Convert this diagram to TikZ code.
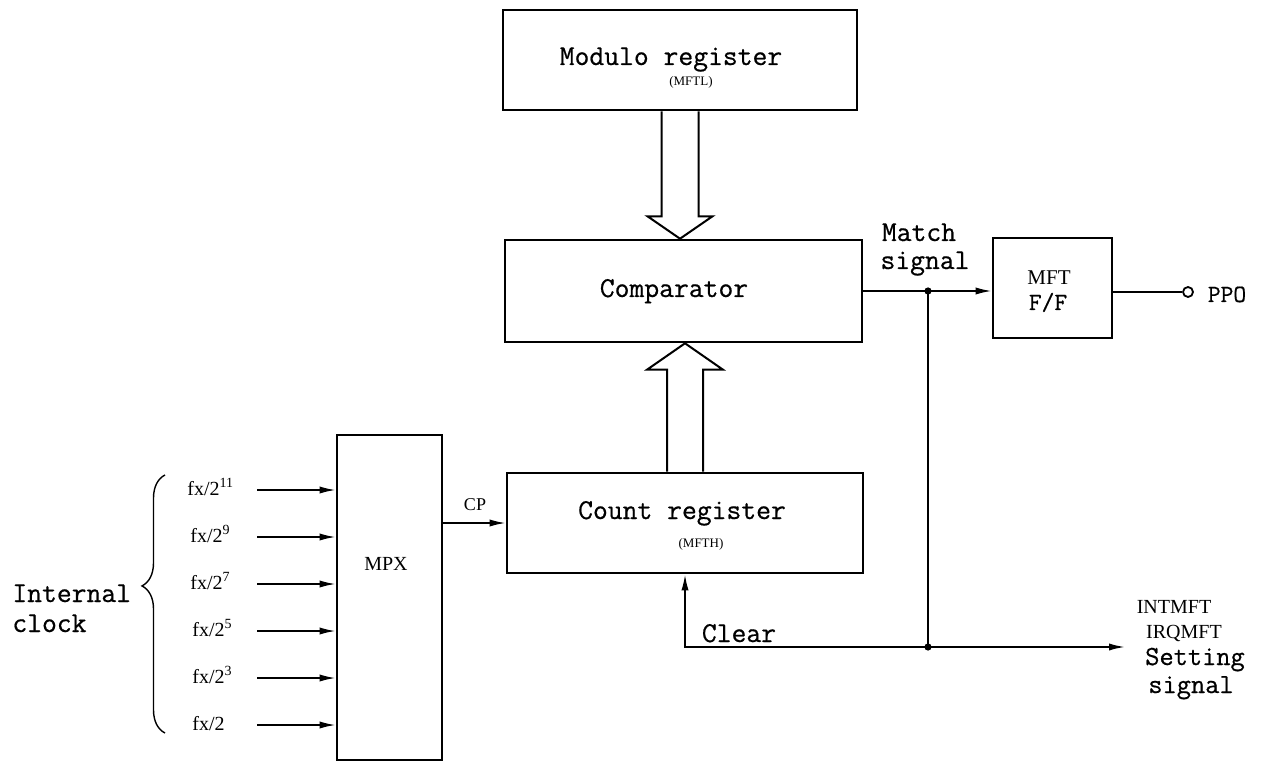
\documentclass[tikz,border=0pt]{standalone}
\usepackage{fontspec}
\setmainfont{Liberation Serif}
\setmonofont{Latin Modern Mono}[FakeBold=0.6]
\usetikzlibrary{arrows.meta,calc,decorations.pathreplacing}
\begin{document}
\begin{tikzpicture}[x=0.5pt,y=-0.5pt,
  blk/.style={draw,line width=1.3pt,inner sep=0pt},
  mono/.style={font=\fontsize{14.4}{16}\selectfont\ttfamily,inner sep=0pt,anchor=base},
  monos/.style={font=\fontsize{12.4}{14}\selectfont\ttfamily,inner sep=0pt,anchor=base},
  sml/.style={font=\fontsize{10}{12}\selectfont,inner sep=0pt,anchor=base},
  tiny/.style={font=\fontsize{6.5}{8}\selectfont,inner sep=0pt,anchor=base},
  wire/.style={line width=0.9pt},
  arr/.style={wire,-{Latex[length=8pt,width=3.6pt]}},
  hollow/.style={line width=1pt,line join=miter}]
\useasboundingbox (0,0) rectangle (1262,764);

% blocks
\node[blk,minimum width=177pt,minimum height=50pt] (mod) at (680,60) {};
\node[blk,minimum width=178.5pt,minimum height=51pt] (cmp) at (683.5,291) {};
\node[blk,minimum width=178pt,minimum height=50pt] (cnt) at (685,523) {};
\node[blk,minimum width=52.5pt,minimum height=162.5pt] (mpx) at (389.5,597.5) {};
\node[blk,minimum width=59.5pt,minimum height=50pt] (mft) at (1052.5,288) {};

% block texts
\node[mono] (modt) at (671,65) {Modulo register};
\node[tiny] (mods) at (691,86) {(MFTL)};
\node[mono] (cmpt) at (674,297) {Comparator};
\node[mono] (cntt) at (682,519) {Count register};
\node[tiny] (cnts) at (701,547) {(MFTH)};
\node[sml] (mpxt) at (386,570) {MPX};
\node[sml,font=\fontsize{10.5}{12}\selectfont] (mftt) at (1049,285) {MFT};
\node[monos] (mftf) at (1048,310) {F/F};

% hollow bus arrows
\draw[hollow] ($(mod.south)+(-18.5,0)$) -- ++(0,105) -- ++(-14,0)
  -- (mod.south |- cmp.north) -- ($(mod.south)+(32.5,105)$)
  -- ($(mod.south)+(18.5,105)$) -- ($(mod.south)+(18.5,0)$);
\draw[hollow] ($(cnt.north)+(-18,0)$) -- ++(0,-102) -- ++(-20,0)
  -- (cnt.north |- cmp.south) -- ($(cnt.north)+(38,-102)$)
  -- ($(cnt.north)+(18,-102)$) -- ($(cnt.north)+(18,0)$);

% clock inputs
\foreach \k/\yy in {1/490,2/537,3/584,4/631,5/678,6/725}{
  \coordinate (in\k) at (257,\yy);
  \draw[arr] (in\k) -- (mpx.west |- in\k);
}
\node[sml,anchor=base west] (f1) at (187,495) {fx/2\textsuperscript{11}};
\node[sml,anchor=base west] (f2) at (190,542) {fx/2\textsuperscript{9}};
\node[sml,anchor=base west] (f3) at (190,589) {fx/2\textsuperscript{7}};
\node[sml,anchor=base west] (f4) at (192,636) {fx/2\textsuperscript{5}};
\node[sml,anchor=base west] (f5) at (192,683) {fx/2\textsuperscript{3}};
\node[sml,anchor=base west] (f6) at (192,730) {fx/2};

% brace and label
\draw[line width=0.7pt,decorate,decoration={brace,amplitude=11.5pt,aspect=0.57}]
  (165,733) -- (165,475);
\node[mono,anchor=base west] (int1) at (12,602) {Internal};
\node[mono,anchor=base west] (int2) at (12,632) {clock};

% CP
\draw[arr] (mpx.east |- cnt.west) -- (cnt.west);
\node[sml,font=\fontsize{9}{11}\selectfont] (cpt) at (475,510) {CP};

% match signal
\coordinate (j1) at (928,291);
\coordinate (j2) at (928,647);
\coordinate (out) at (1125,647);
\draw[arr] (cmp.east) -- (mft.west |- cmp.east);
\node[mono] (m1) at (919,241) {Match};
\node[mono] (m2) at (925,269) {signal};
\draw[wire] (j1) -- (j2);
\fill (j1) circle (1.8pt);
\fill (j2) circle (1.8pt);
\draw[arr] (j2) -- (out);
\draw[arr] (j2) -| (cnt.south);
\node[mono] (clr) at (739,642) {Clear};

% PPO
\node[draw,circle,line width=0.9pt,minimum size=5pt,inner sep=0pt] (ppoc) at (1188,292) {};
\draw[wire] (mft.east |- ppoc) -- (ppoc);
\node[monos] (ppot) at (1227,302) {PPO};

% setting signal labels
\node[sml] (l1) at (1174,613) {INTMFT};
\node[sml] (l2) at (1184,638) {IRQMFT};
\node[mono,font=\fontsize{13.8}{16}\selectfont\ttfamily] (l3) at (1195,665) {Setting};
\node[mono,font=\fontsize{13.8}{16}\selectfont\ttfamily] (l4) at (1191,693) {signal};
\end{tikzpicture}
\end{document}
